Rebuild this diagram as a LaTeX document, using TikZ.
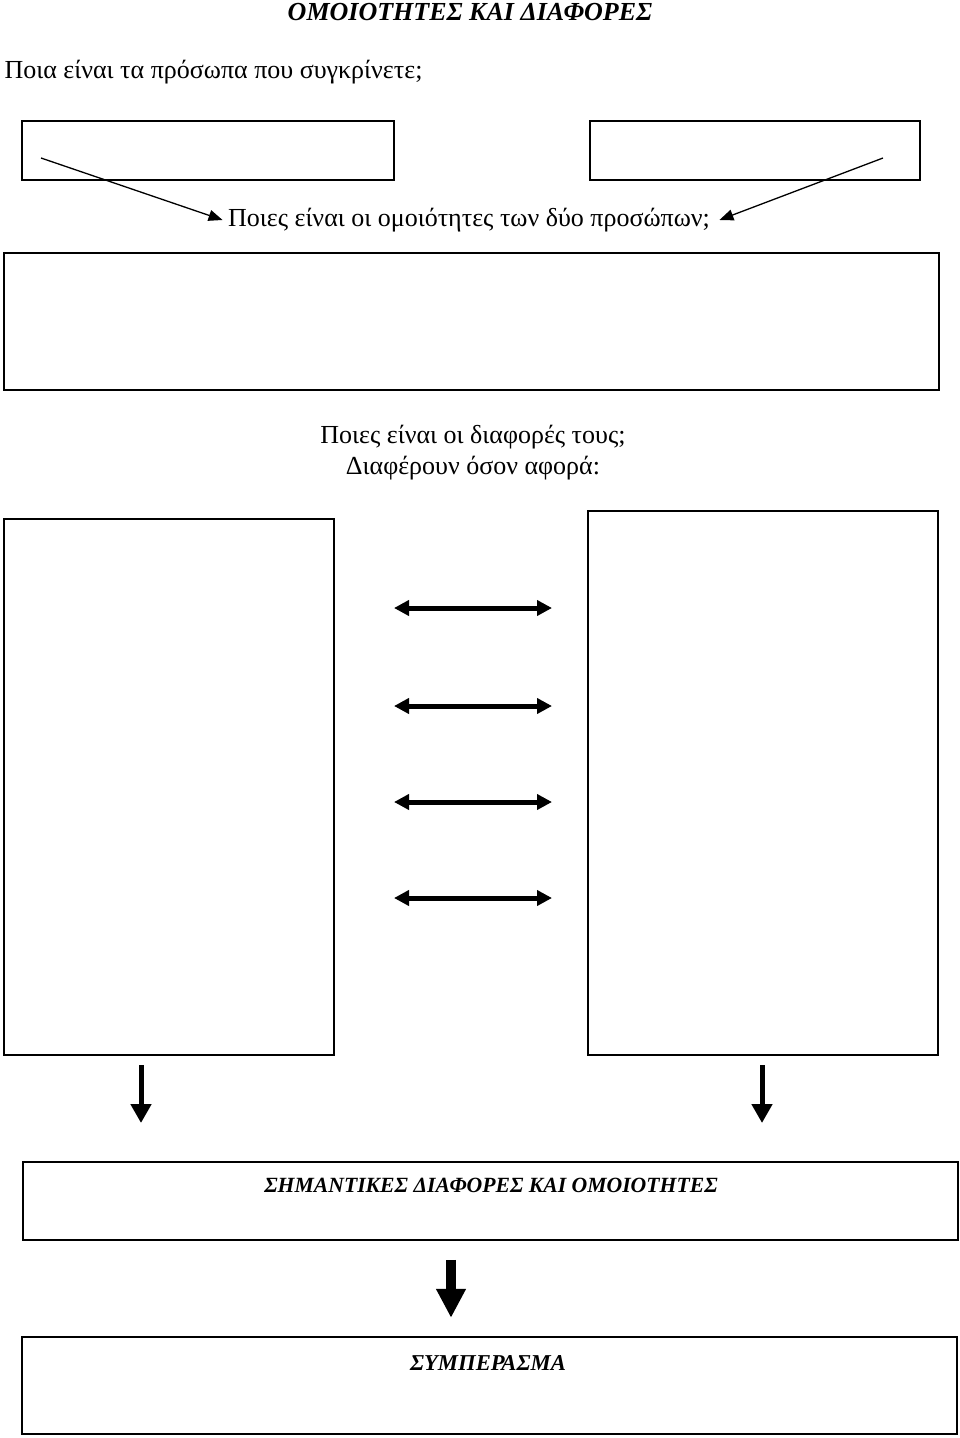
\documentclass[tikz,border=0pt]{standalone}
\usepackage{fontspec}
\setmainfont{Liberation Serif}
\usetikzlibrary{arrows.meta,positioning}

\begin{document}
\begin{tikzpicture}[x=1pt,y=1pt,font=\fontsize{26}{30}\selectfont]
\tikzstyle{box}=[draw,line width=1.6pt,inner sep=0pt]
\tikzstyle{heading}=[font=\fontsize{26}{30}\selectfont\bfseries\itshape]
\tikzstyle{thinarrow}=[-{Triangle[length=14pt,width=11pt]},line width=1.3pt]
\tikzstyle{twoway}=[{Triangle[length=15pt,width=15pt]}-{Triangle[length=15pt,width=15pt]},line width=5pt]
\tikzstyle{downarrow}=[-{Triangle[length=19pt,width=20pt]},line width=5pt]

\useasboundingbox (0,0) rectangle (960,-1438);

\node[heading]		(title) at (470,-12) {ΟΜΟΙΟΤΗΤΕΣ ΚΑΙ ΔΙΑΦΟΡΕΣ};
\node[anchor=west]	(who) at (1,-72) {Ποια είναι τα πρόσωπα που συγκρίνετε;};

\node[box,minimum width=372,minimum height=59]	(personA) at (208,-150.5) {};
\node[box,minimum width=330,minimum height=59]	(personB) at (755,-150.5) {};
\node				(same) at (469,-220) {Ποιες είναι οι ομοιότητες των δύο προσώπων;};
\node[box,minimum width=935,minimum height=137]	(samebox) at (471.5,-321.5) {};

\node				(diff) at (473,-437) {Ποιες είναι οι διαφορές τους;};
\node				(about) [below of=diff,node distance=31] {Διαφέρουν όσον αφορά:};
\node[box,minimum width=330,minimum height=536]	(diffA) at (169,-787) {};
\node[box,minimum width=350,minimum height=544]	(diffB) at (763,-783) {};

\node[box,minimum width=935,minimum height=78]	(mainbox) at (490.5,-1201) {};
\node[heading,font=\fontsize{21.7}{26}\selectfont\bfseries\itshape]	(main) at (491,-1185) {ΣΗΜΑΝΤΙΚΕΣ ΔΙΑΦΟΡΕΣ ΚΑΙ ΟΜΟΙΟΤΗΤΕΣ};
\node[box,minimum width=935,minimum height=97]	(endbox) at (489.5,-1385.5) {};
\node[heading,font=\fontsize{22.7}{26}\selectfont\bfseries\itshape]	(end) at (488,-1363) {ΣΥΜΠΕΡΑΣΜΑ};

\coordinate (fromA) at (41,-158);
\coordinate (fromB) at (883,-158);
\draw[thinarrow] (fromA) -- ([xshift=-2]same.west);
\draw[thinarrow] (fromB) -- ([xshift=6]same.east);

\foreach \y [count=\i] in {608,706,802,898} {
  \coordinate (left\i) at (394,-\y);
  \coordinate (right\i) at (552,-\y);
  \draw[twoway] (left\i) -- (right\i);
}

\coordinate (downA) at (141,-1065);
\coordinate (downB) at (762,-1065);
\draw[downarrow] (downA) -- ++(0,-58);
\draw[downarrow] (downB) -- ++(0,-58);
\draw[downarrow,line width=10pt,-{Triangle[length=29pt,width=28pt]}] (mainbox.south -| 451,0) ++(0,-19) coordinate (downC) -- ++(0,-58);
\end{tikzpicture}
\end{document}
